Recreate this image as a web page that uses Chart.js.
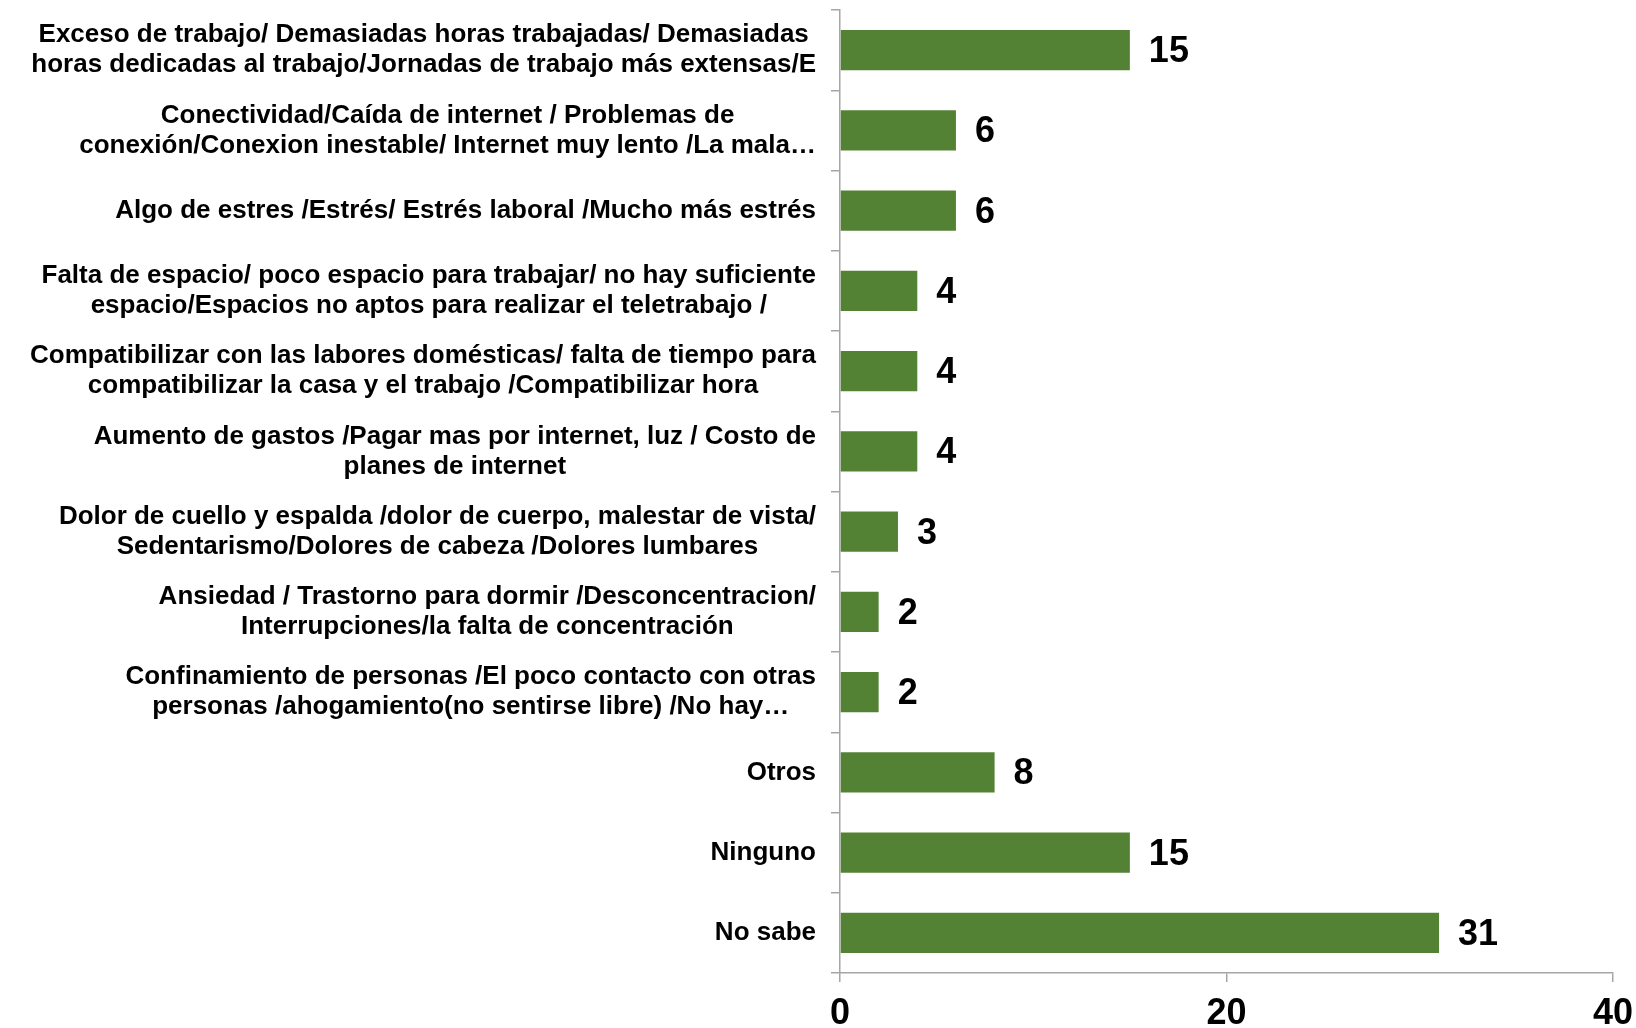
<!DOCTYPE html>
<html>
<head>
<meta charset="utf-8">
<script src="https://cdn.jsdelivr.net/npm/chart.js@4"></script>
<style>
  html, body { margin: 0; padding: 0; background: #fff; }
  #wrap { width: 1636px; height: 1028px; }
</style>
</head>
<body>
<div id="wrap"><canvas id="myChart"></canvas></div>
<script>
var categorias = [
    ['Exceso de trabajo/ Demasiadas horas trabajadas/ Demasiadas', 'horas dedicadas al trabajo/Jornadas de trabajo más extensas/E'],
    ['Conectividad/Caída de internet / Problemas de', 'conexión/Conexion inestable/ Internet muy lento /La mala…'],
    ['Algo de estres /Estrés/ Estrés laboral /Mucho más estrés'],
    ['Falta de espacio/ poco espacio para trabajar/ no hay suficiente', 'espacio/Espacios no aptos para realizar el teletrabajo /'],
    ['Compatibilizar con las labores domésticas/ falta de tiempo para', 'compatibilizar la casa y el trabajo /Compatibilizar hora'],
    ['Aumento de gastos /Pagar mas por internet, luz / Costo de', 'planes de internet'],
    ['Dolor de cuello y espalda /dolor de cuerpo, malestar de vista/', 'Sedentarismo/Dolores de cabeza /Dolores lumbares'],
    ['Ansiedad / Trastorno para dormir /Desconcentracion/', 'Interrupciones/la falta de concentración'],
    ['Confinamiento de personas /El poco contacto con otras', 'personas /ahogamiento(no sentirse libre) /No hay…'],
    ['Otros'],
    ['Ninguno'],
    ['No sabe']
];
var valores = [15, 6, 6, 4, 4, 4, 3, 2, 2, 8, 15, 31];
var ticksX = [0, 20, 40];

// etiquetas del eje Y: bloque alineado a la derecha, lineas centradas entre si
var etiquetasY = {
    id: 'etiquetasY',
    afterDraw: function(chart){
        var ctx = chart.ctx;
        var y = chart.scales.y;
        ctx.save();
        ctx.font = 'bold 26px "Liberation Sans", Arial, sans-serif';
        ctx.fillStyle = '#000';
        ctx.textBaseline = 'middle';
        ctx.textAlign = 'center';
        var derecha = 816;
        var alto = 30;
        categorias.forEach(function(lineas, i){
            var cy = y.getPixelForValue(i);
            var ancho = 0;
            lineas.forEach(function(l){ ancho = Math.max(ancho, ctx.measureText(l).width); });
            var cx = derecha - ancho / 2;
            var y0 = cy - (lineas.length - 1) * alto / 2;
            lineas.forEach(function(l, k){
                ctx.fillText(l, cx, y0 + k * alto);
            });
        });
        ctx.restore();
    }
};

// valores al final de cada barra
var valoresBarra = {
    id: 'valoresBarra',
    afterDatasetsDraw: function(chart){
        var ctx = chart.ctx;
        var meta = chart.getDatasetMeta(0);
        ctx.save();
        ctx.font = 'bold 36px "Liberation Sans", Arial, sans-serif';
        ctx.fillStyle = '#000';
        ctx.textBaseline = 'middle';
        ctx.textAlign = 'left';
        meta.data.forEach(function(bar, i){
            ctx.fillText(String(valores[i]), bar.x + 19, bar.y + 2);
        });
        ctx.restore();
    }
};

var ctx = document.getElementById('myChart');
var myChart = new Chart(ctx, {
    type: 'bar',
    data: {
        labels: categorias,
        datasets: [{
            data: valores,
            backgroundColor: '#548235',
            borderColor: '#548235',
            borderWidth: 0,
            categoryPercentage: 1,
            barPercentage: 0.5
        }]
    },
    options: {
        indexAxis: 'y',
        responsive: true,
        maintainAspectRatio: false,
        animation: false,
        layout: {
            padding: { top: 10, right: 23, left: 0, bottom: 0 }
        },
        plugins: {
            legend: { display: false },
            tooltip: { enabled: false }
        },
        scales: {
            x: {
                min: 0,
                max: 40,
                afterBuildTicks: function(scale){
                    scale.ticks = ticksX.map(function(v){ return { value: v }; });
                },
                afterFit: function(scale){ scale.height = 55; },
                border: { display: true, color: '#a6a6a6', width: 1.5 },
                grid: {
                    drawOnChartArea: false,
                    drawTicks: true,
                    tickLength: 9,
                    color: '#a6a6a6',
                    lineWidth: 1.5
                },
                ticks: {
                    color: '#000',
                    padding: 3,
                    maxRotation: 0,
                    font: { family: '"Liberation Sans", Arial, sans-serif', size: 36, weight: 'bold', lineHeight: 1.6 }
                }
            },
            y: {
                afterFit: function(scale){ scale.width = 840; },
                border: { display: true, color: '#a6a6a6', width: 1.5 },
                grid: {
                    offset: true,
                    drawOnChartArea: false,
                    drawTicks: true,
                    tickLength: 9,
                    color: '#a6a6a6',
                    lineWidth: 1.5
                },
                ticks: {
                    display: false
                }
            }
        }
    },
    plugins: [etiquetasY, valoresBarra]
});
</script>
</body>
</html>
